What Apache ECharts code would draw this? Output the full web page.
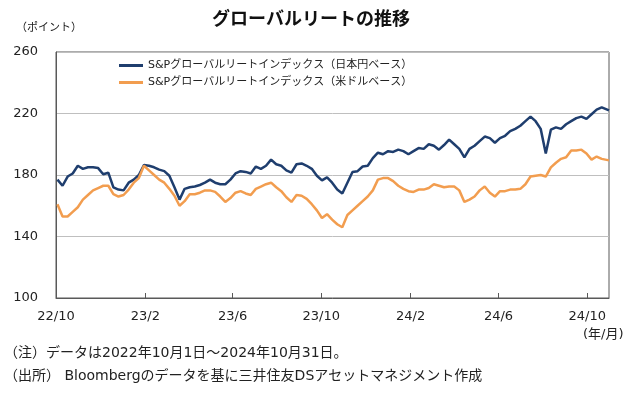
<!DOCTYPE html>
<html lang="ja">
<head>
<meta charset="UTF-8">
<title>グローバルリートの推移</title>
<script src="https://cdn.jsdelivr.net/npm/echarts@6/dist/echarts.min.js"></script>
<style>
  html, body { margin: 0; padding: 0; background: #fff; }
  #chart { width: 640px; height: 398px; }
</style>
</head>
<body>
<div id="chart"></div>
<script>
// 期間（日次の軸）
var startDate = '2022-10-01';
var endDate = '2024-10-31';
// 週次サンプル：2022-10-03 から7日おき、最後に 2024-10-31
var firstSample = '2022-10-03';
var lastSample = '2024-10-31';
var tickMonths = [2, 6, 10];

// S&Pグローバルリートインデックス（日本円ベース）
var jpyValues = [
  177, 173, 179, 181, 186, 184, 185, 185, 184.5, 180.5, 181.5, 172, 170.5, 170, 175, 177, 180, 186.5, 186,
  185, 183.5, 182.5, 179.5, 172, 164, 171, 172, 172.5, 173.5, 175, 177, 175, 174, 174, 177, 181, 182.5,
  182, 181, 185.5, 184, 186, 190, 187, 186, 183, 181.5, 187, 187.5, 186, 184, 179.5, 176.5, 178.5, 175,
  170.5, 168, 175, 182, 182.5, 185.5, 186, 191, 194.5, 193.5, 195.5, 195, 196.5, 195.5, 193.5, 195.5, 197.5, 197,
  200, 199, 196.5, 199.5, 203, 200, 197, 191.5, 197, 199, 202, 205, 204, 201, 204, 205.5, 208.5, 210,
  212, 215, 218, 215, 210, 194, 209.5, 211, 210, 213, 215, 217, 218, 216.5, 219.5, 222.5, 224, 222,
  219
];
// S&Pグローバルリートインデックス（米ドルベース）
var usdValues = [
  161, 153, 153, 156, 159, 164, 167, 170, 171.5, 173, 173, 167.5, 166, 167, 170.5, 175, 178, 186, 183,
  180, 177, 175, 171, 166.5, 160, 163, 167.5, 167.5, 168.5, 170, 170, 169, 166, 162.5, 165, 168.5, 169.5,
  168, 167, 171, 172.5, 174, 175, 172, 169.5, 165.5, 162.5, 167, 166.5, 164.5, 161, 157, 152, 154.5, 151,
  148, 146, 154, 157, 160, 163, 166, 170, 177, 178, 178, 176, 173, 171, 169.5, 169, 170.5, 170.5,
  171.5, 174, 173, 172, 172.5, 172.5, 170, 162.5, 164, 166, 170, 172.5, 168.5, 166, 169.5, 169.5, 170.5, 170.5,
  171, 174, 179, 179.5, 180, 179, 185, 188, 190.5, 191.5, 196, 196, 196.5, 194, 190, 192, 190.5, 189.5,
  188
];

var DAY = 86400000;
function toTime(s) { var p = s.split('-'); return Date.UTC(+p[0], +p[1] - 1, +p[2]); }
function fmt(t) {
  var d = new Date(t);
  var m = d.getUTCMonth() + 1, dd = d.getUTCDate();
  return d.getUTCFullYear() + '-' + (m < 10 ? '0' : '') + m + '-' + (dd < 10 ? '0' : '') + dd;
}

var days = [];
for (var t = toTime(startDate); t <= toTime(endDate); t += DAY) days.push(fmt(t));

var sampleDates = [];
for (var s = toTime(firstSample); s < toTime(lastSample) - 3 * DAY; s += 7 * DAY) sampleDates.push(fmt(s));
sampleDates.push(lastSample);

function toDaily(vals) {
  var out = days.map(function () { return null; });
  sampleDates.forEach(function (d, i) {
    var idx = days.indexOf(d);
    if (idx >= 0 && vals[i] != null) out[idx] = vals[i];
  });
  return out;
}

function isTick(idx) {
  var p = days[idx].split('-');
  return p[2] === '01' && tickMonths.indexOf(+p[1]) >= 0;
}

var font = '"DejaVu Sans", "Noto Sans CJK JP", sans-serif';
var chart = echarts.init(document.getElementById('chart'));
chart.setOption({
  animation: false,
  textStyle: { fontFamily: font },
  grid: { left: 56, right: 31, top: 52, bottom: 100, show: true, borderColor: '#595959', borderWidth: 1, backgroundColor: 'transparent' },
  legend: {
    orient: 'vertical',
    left: 114, top: 55,
    itemWidth: 24, itemHeight: 3, itemGap: 6,
    icon: 'rect',
    textStyle: { fontSize: 11, color: '#222', fontFamily: font },
    data: ['S&Pグローバルリートインデックス（日本円ベース）', 'S&Pグローバルリートインデックス（米ドルベース）']
  },
  xAxis: {
    type: 'category',
    data: days,
    boundaryGap: false,
    axisLine: { lineStyle: { color: '#595959', width: 1 } },
    axisTick: { inside: true, length: 5, interval: function (i) { return isTick(i); }, lineStyle: { color: '#595959' } },
    axisLabel: {
      interval: function (i) { return isTick(i); },
      margin: 12, fontSize: 13, color: '#222', fontFamily: font,
      formatter: function (v) { var p = v.split('-'); return p[0].slice(2) + '/' + (+p[1]); }
    },
    splitLine: { show: false }
  },
  yAxis: {
    type: 'value',
    min: 100, max: 260, interval: 40,
    axisLine: { show: true, lineStyle: { color: '#595959', width: 1 } },
    axisTick: { show: false },
    axisLabel: { margin: 18, fontSize: 13, color: '#222', fontFamily: font },
    splitLine: { lineStyle: { color: '#bfbfbf', width: 1 } }
  },
  series: [
    {
      name: 'S&Pグローバルリートインデックス（日本円ベース）',
      type: 'line', data: toDaily(jpyValues), connectNulls: true,
      showSymbol: false, color: '#1f3e6e',
      lineStyle: { width: 2.5, color: '#1f3e6e' }
    },
    {
      name: 'S&Pグローバルリートインデックス（米ドルベース）',
      type: 'line', data: toDaily(usdValues), connectNulls: true,
      showSymbol: false, color: '#f29d4f',
      lineStyle: { width: 2.5, color: '#f29d4f' }
    }
  ],
  graphic: [
    { type: 'text', left: 212, top: 9, style: { text: 'グローバルリートの推移', font: 'bold 18px "Noto Sans CJK JP", sans-serif', fill: '#111' } },
    { type: 'text', left: 16, top: 23, style: { text: '（ポイント）', font: '11px ' + font, fill: '#222' } },
    { type: 'text', left: 583, top: 328, style: { text: '(年/月)', font: '13px ' + font, fill: '#222' } },
    { type: 'text', left: 4, top: 346, style: { text: '（注）データは2022年10月1日～2024年10月31日。', font: '14px ' + font, fill: '#222' } },
    { type: 'text', left: 4, top: 369, style: { text: '（出所） Bloombergのデータを基に三井住友DSアセットマネジメント作成', font: '14px ' + font, fill: '#222' } }
  ]
});
</script>
</body>
</html>
